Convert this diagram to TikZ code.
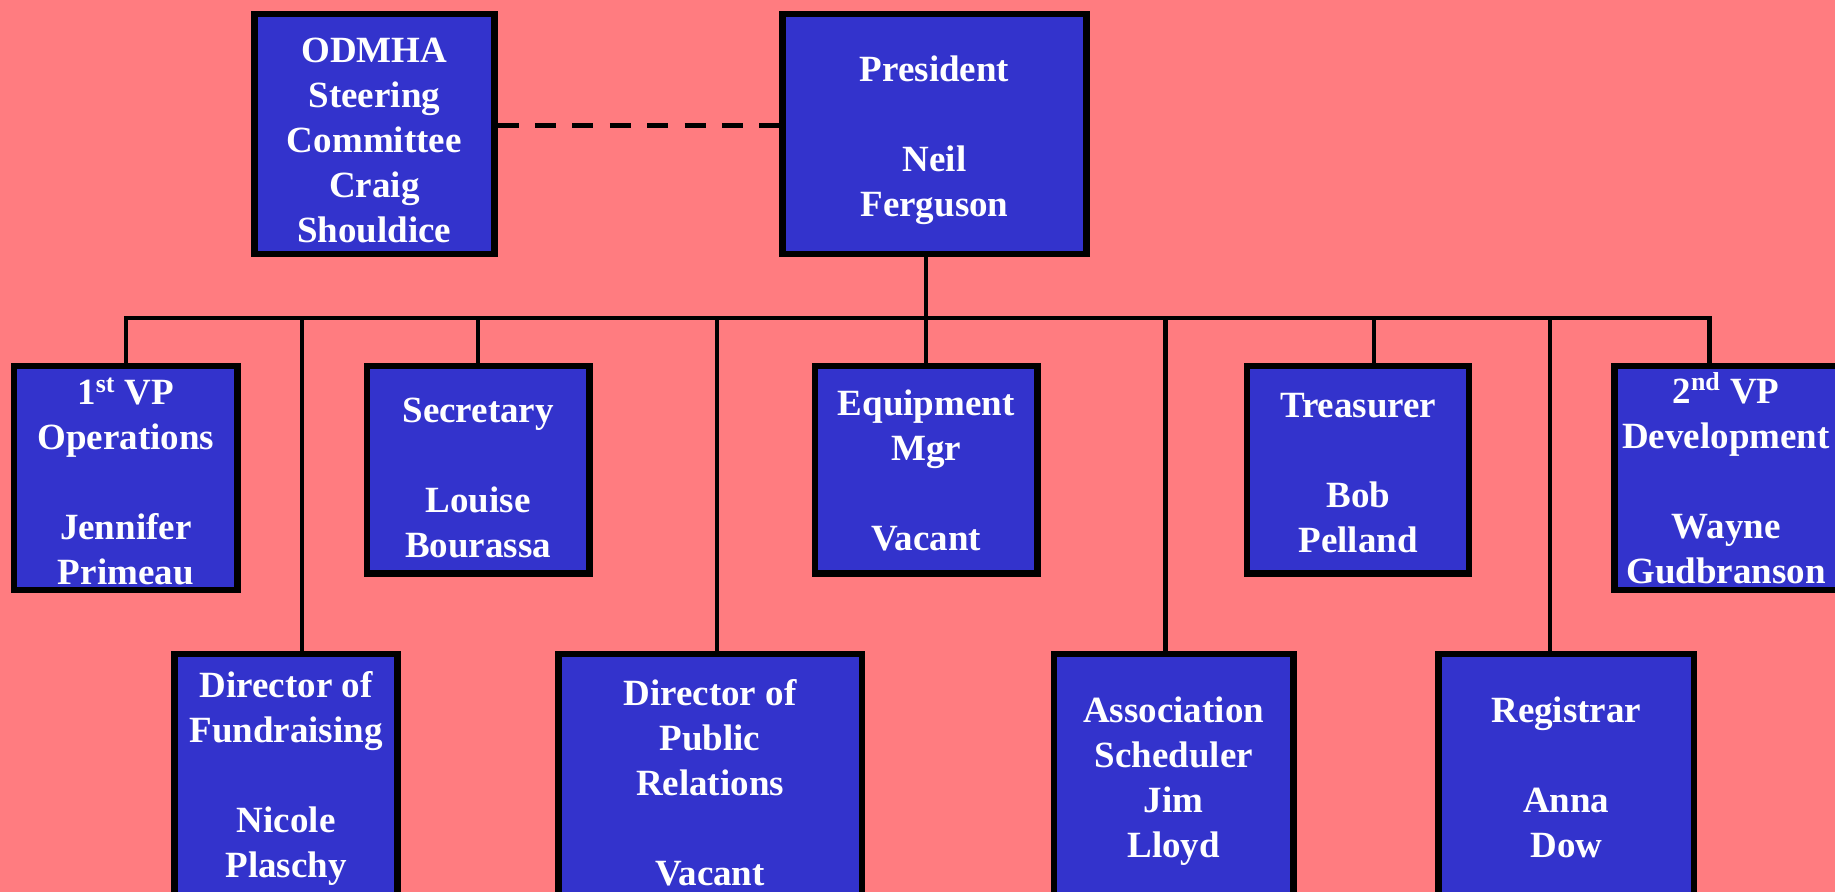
\documentclass[tikz,border=0pt]{standalone}
\usepackage{fontspec}
\setmainfont{Liberation Serif}
\usepackage{tikz}
\definecolor{Salmon}{HTML}{FF7C80}
\definecolor{Board}{HTML}{3333CC}

\newcommand\postfont{\fontsize{18.5}{22.5}\selectfont\bfseries}
% fixed line boxes, so every block sits the same way in its box
\newlength\postlift
\setlength\postlift{19pt}
\newlength\postsink
\setlength\postsink{4.1pt}
\newcommand\postup{\rule{0pt}{\postlift}}
\newcommand\postdown{\rule[-\postsink]{0pt}{0pt}}

\tikzset{
  post/.style={draw=black,line width=3.25pt,fill=Board,text=white,
    align=center,inner sep=0pt,font=\postfont,execute at end node=\postdown},
  lift/.code={\setlength\postlift{#1}},
  sink/.code={\setlength\postsink{#1}},
  wire/.style={line width=2.25pt,line join=miter},
}

\begin{document}
\begin{tikzpicture}[x=0.5pt,y=-0.5pt]
  \useasboundingbox (0,0) rectangle (1835,892);
  \clip (0,0) rectangle (1835,892);
  \fill[Salmon] (0,0) rectangle (1835,892);

  % top
  \node[post,lift=22.3pt,minimum width=120pt,minimum height=120pt] (odmha) at (374.3,134)
    {\postup ODMHA\\Steering\\Committee\\Craig\\Shouldice};
  \node[post,minimum width=151.9pt,minimum height=120pt] (pres) at (934.5,134)
    {\postup President\\[22.5pt]Neil\\Ferguson};

  % first row
  \node[post,lift=16.9pt,sink=0pt,minimum width=111.6pt,minimum height=112pt] (vp1) at (125.8,478)
    {\postup 1\textsuperscript{st} VP\\Operations\\[22.5pt]Jennifer\\Primeau};
  \node[post,lift=24.7pt,minimum width=111.2pt,minimum height=103.75pt] (sec) at (478.2,469.7)
    {\postup Secretary\\[22.5pt]Louise\\Bourassa};
  \node[post,lift=17.7pt,minimum width=111.3pt,minimum height=103.75pt] (eq) at (926.2,469.7)
    {\postup Equipment\\Mgr\\[22.5pt]Vacant};
  \node[post,minimum width=111pt,minimum height=103.75pt] (treas) at (1358.2,469.7)
    {\postup Treasurer\\[22.5pt]Bob\\Pelland};
  \node[post,lift=14.9pt,sink=0pt,minimum width=111.75pt,minimum height=112pt] (vp2) at (1726,478)
    {\postup 2\textsuperscript{nd} VP\\Development\\[22.5pt]Wayne\\Gudbranson};

  % second row, cut at the bottom
  \node[post,lift=16.5pt,minimum width=111.45pt,minimum height=121.5pt] (fund) at (286.1,775.3)
    {\postup Director of\\Fundraising\\[22.5pt]Nicole\\Plaschy};
  \node[post,lift=23.9pt,minimum width=151.75pt,minimum height=121.5pt] (pr) at (710,775.3)
    {\postup Director of\\Public\\Relations\\[22.5pt]Vacant};
  \node[post,minimum width=119.55pt,minimum height=121.5pt] (assoc) at (1173.7,775.3)
    {\postup Association\\Scheduler\\Jim\\Lloyd};
  \node[post,minimum width=127.6pt,minimum height=121.5pt] (reg) at (1566.3,775.3)
    {\postup Registrar\\[22.5pt]Anna\\Dow};

  % lines
  \draw[line width=2.5pt,dash pattern=on 10.5pt off 8.2pt]
    ([yshift=4pt]odmha.east) -- ([yshift=4pt]odmha.east -| pres.west);
  \coordinate (busEnd) at (1709.3,318);
  \draw[wire] (vp1.north) |- (busEnd) -- (busEnd |- vp2.north);
  \draw[wire] (pres.south -| eq.north) -- (eq.north);
  \draw[wire] (sec.north) -- (sec.north |- busEnd);
  \foreach \x/\n in {302.2/fund,717.1/pr,1165.4/assoc,1374/treas,1550/reg}{
    \coordinate (drop) at (\x,318);
    \draw[wire] (drop) -- (drop |- \n.north);
  }
\end{tikzpicture}
\end{document}
